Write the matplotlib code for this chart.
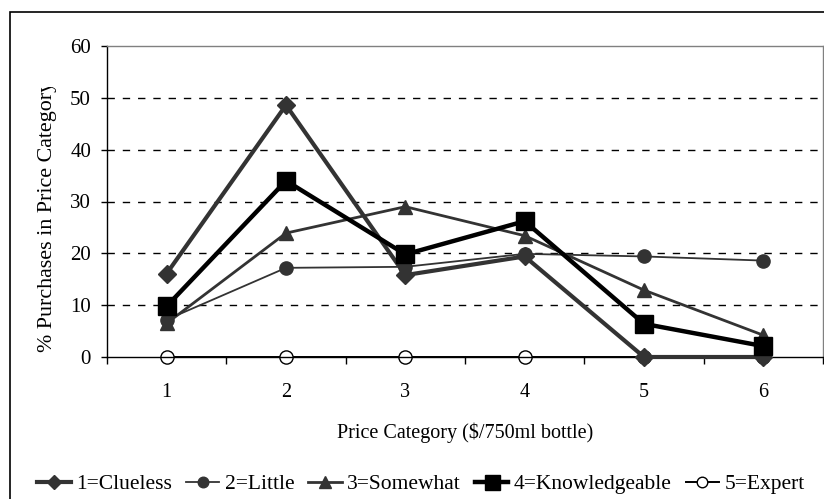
import matplotlib
matplotlib.use("Agg")
import matplotlib.pyplot as plt
from matplotlib.patches import Rectangle
from matplotlib.transforms import Bbox, TransformedBbox

categories = [1, 2, 3, 4, 5, 6]
clueless = [16.1, 48.6, 15.8, 19.4, 0, 0]
little = [7.2, 17.2, 17.4, 19.9, 19.4, 18.6]
somewhat = [6.5, 23.9, 29.0, 23.4, 12.9, 4.2]
knowledgeable = [9.8, 34.0, 19.8, 26.2, 6.4, 2.1]
expert = [0, 0, 0, 0, 0, 0]
y_ticks = [0, 10, 20, 30, 40, 50, 60]

plt.rcParams['font.family'] = ['Liberation Serif', 'DejaVu Serif']
W, H = 824, 499
fig = plt.figure(figsize=(W / 100, H / 100), dpi=100)
ax = fig.add_axes([107 / W, (H - 357) / H, (823 - 107) / W, (357 - 46) / H])

dark = '#333333'
ax.plot(categories, expert, color='black', lw=1.4, marker='o', ms=9.5,
        mfc='white', mec='black', mew=1.0, zorder=2, clip_on=False, label='5=Expert')
ax.plot(categories, clueless, color=dark, lw=3.0, marker='D', ms=9.5,
        mfc=dark, mec=dark, zorder=3, clip_on=False, label='1=Clueless')
ax.plot(categories, little, color=dark, lw=1.3, marker='o', ms=9.5,
        mfc=dark, mec=dark, zorder=4, clip_on=False, label='2=Little')
ax.plot(categories, somewhat, color=dark, lw=2.0, marker='^', ms=10,
        mfc=dark, mec=dark, zorder=5, clip_on=False, label='3=Somewhat')
ax.plot(categories, knowledgeable, color='black', lw=3.2, marker='s', ms=13.5,
        mfc='black', mec='black', zorder=6, clip_on=False, label='4=Knowledgeable')

ax.set_xlim(0.5, 6.5)
ax.set_ylim(0, 60)
ax.set_yticks(y_ticks)
ax.set_xticks(categories)
ax.set_xticks([0.5, 1.5, 2.5, 3.5, 4.5, 5.5, 6.5], minor=True)
ax.tick_params(axis='x', which='major', length=0, pad=19, labelsize=14.5)
ax.tick_params(axis='x', which='minor', length=5, width=1, direction='out')
ax.tick_params(axis='y', length=4.5, width=1, pad=7, labelsize=15)

for v in y_ticks[1:-1]:
    ax.axhline(v, color='black', lw=1, dashes=(5.3, 5.7), zorder=1)

ax.spines['top'].set_color('#808080')
ax.spines['right'].set_color('#808080')
ax.spines['left'].set_color('black')
ax.spines['bottom'].set_color('black')
for s in ax.spines.values():
    s.set_linewidth(1)

ax.set_xlabel('Price Category ($/750ml bottle)', fontsize=14.5)
ax.xaxis.set_label_coords(0.5, -(433 - 357) / (357 - 46))
ax.xaxis.label.set_va('center')

yl = fig.text(48 / W, (H - 352) / H, '% Purchases in Price Category', rotation=90,
              ha='center', va='bottom', fontsize=15.8)
yl.set_clip_on(True)
yl.set_clip_box(TransformedBbox(Bbox([[0, 0], [1, (H - 87) / H]]), fig.transFigure))

# chart border and cut-off title
fig.patches.append(Rectangle((10 / W, -0.1), 2, (H - 12) / H + 0.1, transform=fig.transFigure,
                             fill=False, edgecolor='black', lw=1.2))
fig.text(117 / W, 1.0 + 23 / H, 'Wine Purchases by Drinking Behavior (Knowledge)', fontsize=21,
         fontweight='bold', ha='left', va='baseline')

handles, labels = ax.get_legend_handles_labels()
order = [1, 2, 3, 4, 0]
fig.legend([handles[i] for i in order], [labels[i] for i in order], loc='center',
           bbox_to_anchor=(421 / W, (H - 484) / H), ncol=5, frameon=False, fontsize=15.5,
           handlelength=1.55, handletextpad=0.25, columnspacing=0.65, markerscale=0.8)

fig.savefig('out.png', dpi=100)
